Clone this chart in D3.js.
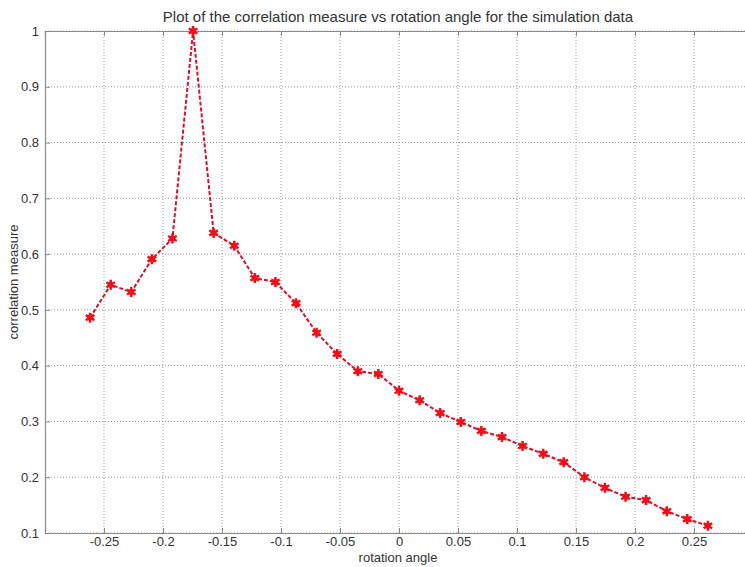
<!DOCTYPE html>
<html>
<head>
<meta charset="utf-8">
<script src="https://cdn.jsdelivr.net/npm/d3@7"></script>
<style>
  body { margin: 0; background: #fff; }
  text { font-family: "Liberation Sans", Arial, sans-serif; fill: #333; }
</style>
</head>
<body>
<script>
// rotation angle (radians), -15 .. 15 degrees
let angles = [-0.2618, -0.2443, -0.2269, -0.2094, -0.1920, -0.1745, -0.1571, -0.1396,
    -0.1222, -0.1047, -0.0873, -0.0698, -0.0524, -0.0349, -0.0175, 0,
    0.0175, 0.0349, 0.0524, 0.0698, 0.0873, 0.1047, 0.1222, 0.1396,
    0.1571, 0.1745, 0.1920, 0.2094, 0.2269, 0.2443, 0.2618];

let corr = [0.486, 0.545, 0.532, 0.591, 0.628, 1.0, 0.638, 0.615,
    0.557, 0.550, 0.512, 0.459, 0.421, 0.390, 0.385, 0.355,
    0.338, 0.315, 0.299, 0.283, 0.272, 0.256, 0.242, 0.227,
    0.200, 0.181, 0.165, 0.159, 0.139, 0.125, 0.113];

let xTicks = [-0.25, -0.2, -0.15, -0.1, -0.05, 0, 0.05, 0.1, 0.15, 0.2, 0.25, 0.3];
let yTicks = [0.1, 0.2, 0.3, 0.4, 0.5, 0.6, 0.7, 0.8, 0.9, 1];

let W = 745, H = 567;
let plotL = 45, plotR = 753, plotT = 31, plotB = 533;

let x = d3.scaleLinear().domain([-0.3, 0.3]).range([plotL, plotR]);
let y = d3.scaleLinear().domain([0.1, 1]).range([plotB, plotT]);

let svg = d3.select("body").append("svg")
    .attr("width", W)
    .attr("height", H);

// grid
let grid = svg.append("g").attr("class", "grid");
grid.selectAll("line.gx")
    .data(xTicks)
    .enter().append("line")
    .attr("class", "gx")
    .attr("x1", d => x(d)).attr("x2", d => x(d))
    .attr("y1", plotT).attr("y2", plotB);
grid.selectAll("line.gy")
    .data(yTicks)
    .enter().append("line")
    .attr("class", "gy")
    .attr("x1", plotL).attr("x2", plotR)
    .attr("y1", d => y(d)).attr("y2", d => y(d));
grid.selectAll("line")
    .attr("stroke", "#9a9a9a")
    .attr("stroke-width", 1)
    .attr("stroke-dasharray", "1,2");

// axes with inward ticks
let xAxis = d3.axisBottom(x).tickValues(xTicks).tickSize(-5).tickPadding(4).tickFormat(d => d === 0.3 ? "" : String(d));
let xAxisTop = d3.axisTop(x).tickValues(xTicks).tickSize(-5).tickFormat("");
let yAxis = d3.axisLeft(y).tickValues(yTicks).tickSize(-5).tickPadding(6).tickFormat(d => String(d));

svg.append("g").attr("transform", "translate(0," + plotB + ")").call(xAxis);
svg.append("g").attr("transform", "translate(0," + plotT + ")").call(xAxisTop);
svg.append("g").attr("transform", "translate(" + plotL + ",0)").call(yAxis);

svg.selectAll(".domain").attr("stroke", "#8a8a8a").attr("stroke-width", 1.2);
svg.selectAll(".tick line").attr("stroke", "#8a8a8a");
svg.selectAll(".tick text")
    .style("font-family", "'Liberation Sans', Arial, sans-serif")
    .style("font-size", "13px")
    .attr("fill", "#333");

// data line
let line = d3.line()
    .x((d, i) => x(angles[i]))
    .y(d => y(d));

svg.append("path")
    .datum(corr)
    .attr("fill", "none")
    .attr("stroke", "#d8102a")
    .attr("stroke-width", 2)
    .attr("stroke-dasharray", "4,2")
    .attr("d", line);

// markers
let star = d3.symbol().type(d3.symbolAsterisk).size(70);
svg.selectAll("path.pt")
    .data(corr)
    .enter().append("path")
    .attr("class", "pt")
    .attr("transform", (d, i) => "translate(" + x(angles[i]) + "," + y(d) + ")")
    .attr("d", star)
    .attr("fill", "none")
    .attr("stroke", "#f0101a")
    .attr("stroke-width", 2.5);
svg.selectAll("circle.pt")
    .data(corr)
    .enter().append("circle")
    .attr("class", "pt")
    .attr("cx", (d, i) => x(angles[i]))
    .attr("cy", d => y(d))
    .attr("r", 3)
    .attr("fill", "#f0101a");

// titles
svg.append("text")
    .attr("x", 398).attr("y", 22)
    .attr("text-anchor", "middle")
    .style("font-size", "15px")
    .attr("fill", "#222")
    .text("Plot of the correlation measure vs rotation angle for the simulation data");

svg.append("text")
    .attr("x", 398).attr("y", 562)
    .attr("text-anchor", "middle")
    .style("font-size", "13px")
    .text("rotation angle");

svg.append("text")
    .attr("transform", "translate(18," + ((plotT + plotB) / 2) + ") rotate(-90)")
    .attr("text-anchor", "middle")
    .style("font-size", "13px")
    .text("correlation measure");
</script>
</body>
</html>
